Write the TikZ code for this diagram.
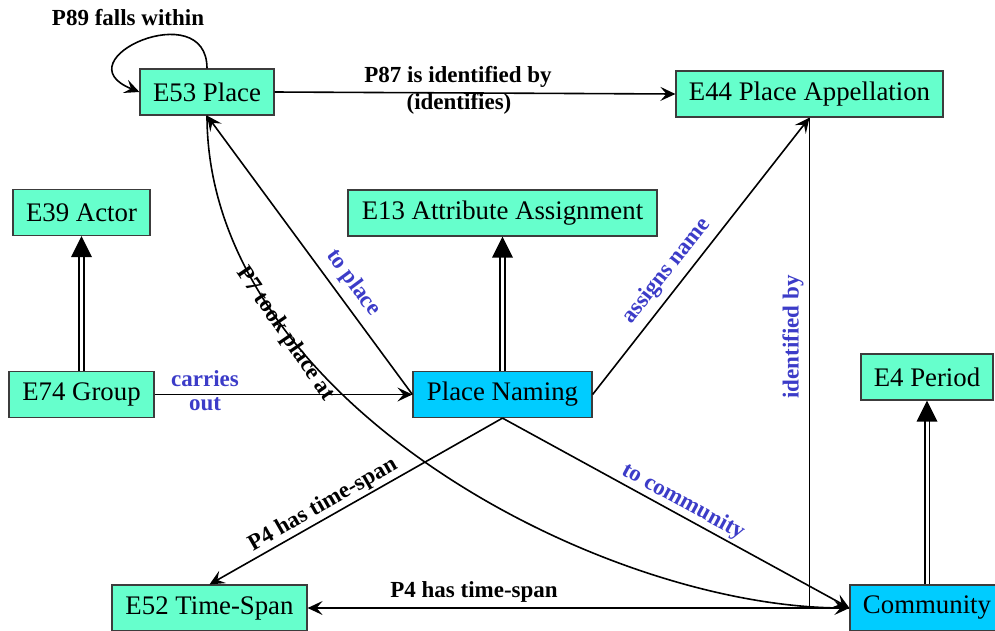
\documentclass[tikz,border=0pt]{standalone}
\usepackage{fontspec}
\setmainfont{Liberation Serif}
\usetikzlibrary{arrows.meta}
\definecolor{classgreen}{RGB}{102,255,204}
\definecolor{instcyan}{RGB}{0,204,255}
\definecolor{proplabel}{RGB}{60,60,200}
\definecolor{boxline}{RGB}{60,60,60}

\begin{document}
\begin{tikzpicture}[x=1pt,y=-1pt,
  entity/.style={draw=boxline, line width=1.2pt, fill=classgreen, minimum height=46pt,
    inner sep=0pt, font=\fontsize{26.8}{30}\selectfont},
  instance/.style={entity, fill=instcyan},
  rel/.style={draw=black, line width=1.6pt, -{Stealth[length=15pt,width=14pt,inset=6pt]}},
  plain/.style={draw=black, line width=1.6pt},
  isa/.style={draw=black, line width=1.8pt, double distance=3pt, shorten >=19pt},
  isahead/.style={fill=black},
  lbl/.style={font=\bfseries\fontsize{23}{26}\selectfont, inner sep=1pt},
  bluelbl/.style={lbl, text=proplabel}]
\useasboundingbox (0,0) rectangle (995,630);

% classes and instances
\node[entity, minimum width=134pt] (e53) at (207,92) {E53 Place};
\node[entity, minimum width=267pt] (e44) at (809.5,94) {E44 Place Appellation};
\node[entity, minimum width=137pt] (e39) at (81.5,212.5) {E39 Actor};
\node[entity, minimum width=309pt] (e13) at (502.5,213) {E13 Attribute Assignment};
\node[entity, minimum width=145pt] (e74) at (81.5,394.5) {E74 Group};
\node[instance, minimum width=179pt] (pn) at (502.5,394.5) {Place Naming};
\node[entity, minimum width=132pt] (e4) at (927,377) {E4 Period};
\node[entity, minimum width=195pt] (e52) at (209.5,608) {E52 Time-Span};
\node[instance, minimum width=154pt] (comm) at (927,608) {Community};

% subclass links: double shaft and a solid triangular head
\draw[isa] (e74.north) -- (e39.south);
\fill[isahead] (e39.south) -- ++(-10.5,21) -- ++(21,0) -- cycle;
\draw[isa] (pn.north) -- (e13.south);
\fill[isahead] (e13.south) -- ++(-10.5,21) -- ++(21,0) -- cycle;
\draw[isa] (comm.north -| e4.south) -- (e4.south);
\fill[isahead] (e4.south) -- ++(-10.5,21) -- ++(21,0) -- cycle;

% properties
\draw[rel] (e53.north) .. controls +(0,-74) and +(-80,-32) .. (e53.west);
\draw[rel] (e53.east) -- (e44.west);
\draw[rel] (pn.west) -- (e53.south);
\draw[rel] (e53.south) .. controls (207,400) and (600,607) .. (comm.west);
\draw[rel] (e74.east) -- (pn.west);
\draw[rel] (pn.east) -- (e44.south);
\draw[rel] (pn.south) -- (e52.north);
\draw[rel] (pn.south) -- (comm.west);
\draw[rel] (comm.west) -- (e52.east);
\draw[plain] (comm.west) -| (e44.south);

% property labels
\node[lbl] (l89) at (128,18) {P89 falls within};
\node[lbl] (l87a) at (458,77) {P87 is identified by};
\node[lbl] (l87b) at (459,104) {(identifies)};
\node[bluelbl, rotate=-53.6] (ltp) at (353,283) {to place};
\node[lbl, rotate=-55.5] (lp7) at (285,334) {P7 took place at};
\node[bluelbl, align=center] (lco) at (205,391) {carries\\[-2pt]out};
\node[bluelbl, rotate=51.7] (lan) at (667,271) {assigns name};
\node[bluelbl, rotate=90] (lib) at (793,337) {identified by};
\node[lbl, rotate=29.8] (lts1) at (323,505) {P4 has time-span};
\node[bluelbl, rotate=-28.6] (ltc) at (683,502) {to community};
\node[lbl] (lts2) at (474,592) {P4 has time-span};
\end{tikzpicture}
\end{document}
